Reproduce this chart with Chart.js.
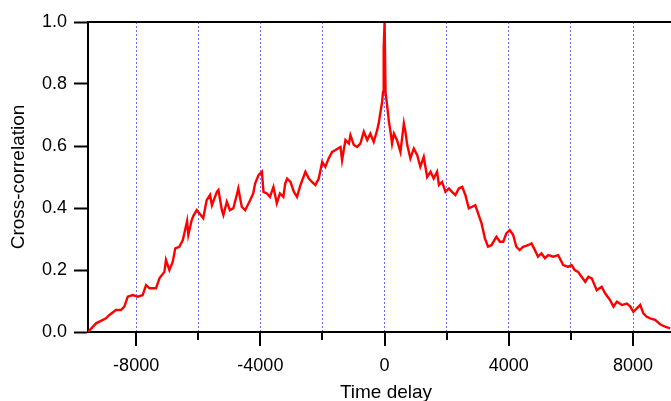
<!DOCTYPE html>
<html>
<head>
<meta charset="utf-8">
<script src="https://cdn.jsdelivr.net/npm/chart.js@4/dist/chart.umd.min.js"></script>
<style>
html, body { margin: 0; padding: 0; overflow: hidden; background: #fff; }
canvas { display: block; }
</style>
</head>
<body>
<canvas id="xcorrChart" width="684" height="401"></canvas>
<script>
// time lag (x) and cross-correlation value (y)
const lags = [
    -9550, -9290, -8970, -8860, -8650, -8490, -8380, -8270, -8110, -7950,
    -7790, -7680, -7570, -7360, -7250, -7090, -7040, -6930, -6820, -6740,
    -6610, -6500, -6440, -6360, -6320, -6210, -6160, -6050, -5940, -5840,
    -5730, -5620, -5560, -5400, -5350, -5240, -5190, -5080, -4980, -4870,
    -4760, -4710, -4600, -4490, -4330, -4230, -4170, -4060, -3950, -3900,
    -3790, -3690, -3580, -3470, -3370, -3260, -3200, -3140, -3030, -2920,
    -2820, -2710, -2550, -2440, -2340, -2230, -2120, -2010, -1910, -1800,
    -1690, -1580, -1420, -1370, -1260, -1150, -1100, -990, -890, -780,
    -670, -560, -460, -350, -240, -190, -140, -80, -50, -30,
    0, 30, 80, 140, 190, 240, 300, 400, 510, 620,
    670, 730, 830, 940, 1050, 1150, 1260, 1370, 1480, 1580,
    1690, 1750, 1850, 1960, 2070, 2170, 2280, 2390, 2500, 2600,
    2710, 2820, 2920, 3030, 3120, 3230, 3330, 3440, 3600, 3710,
    3820, 3920, 4030, 4140, 4240, 4350, 4460, 4620, 4730, 4840,
    4940, 5050, 5160, 5270, 5430, 5590, 5750, 5910, 6020, 6120,
    6230, 6300, 6460, 6560, 6670, 6830, 6990, 7100, 7260, 7370,
    7480, 7640, 7800, 7910, 8010, 8120, 8230, 8330, 8440, 8550,
    8710, 8870, 9030, 9190
];
const xcorr = [
    0.000, 0.028, 0.044, 0.055, 0.071, 0.071, 0.082, 0.114, 0.119, 0.114,
    0.119, 0.151, 0.141, 0.141, 0.173, 0.194, 0.232, 0.200, 0.227, 0.270,
    0.275, 0.296, 0.322, 0.358, 0.313, 0.361, 0.374, 0.393, 0.380, 0.367,
    0.425, 0.442, 0.409, 0.452, 0.458, 0.393, 0.377, 0.420, 0.393, 0.399,
    0.442, 0.463, 0.404, 0.393, 0.425, 0.447, 0.479, 0.506, 0.517, 0.452,
    0.447, 0.436, 0.468, 0.415, 0.447, 0.436, 0.479, 0.495, 0.484, 0.452,
    0.436, 0.474, 0.517, 0.495, 0.484, 0.474, 0.495, 0.549, 0.533, 0.560,
    0.581, 0.587, 0.597, 0.554, 0.619, 0.608, 0.635, 0.603, 0.597, 0.608,
    0.646, 0.619, 0.640, 0.613, 0.651, 0.673, 0.705, 0.742, 0.774, 0.915,
    1.000, 0.774, 0.732, 0.678, 0.646, 0.608, 0.640, 0.619, 0.581, 0.673,
    0.646, 0.603, 0.560, 0.592, 0.570, 0.533, 0.565, 0.500, 0.517, 0.495,
    0.517, 0.474, 0.484, 0.452, 0.463, 0.452, 0.442, 0.463, 0.468, 0.442,
    0.399, 0.404, 0.409, 0.377, 0.351, 0.302, 0.275, 0.280, 0.307, 0.291,
    0.291, 0.318, 0.329, 0.313, 0.275, 0.264, 0.275, 0.280, 0.286, 0.264,
    0.243, 0.254, 0.238, 0.248, 0.243, 0.248, 0.216, 0.210, 0.216, 0.200,
    0.194, 0.184, 0.162, 0.178, 0.173, 0.135, 0.146, 0.125, 0.103, 0.082,
    0.098, 0.087, 0.092, 0.082, 0.065, 0.076, 0.087, 0.060, 0.049, 0.044,
    0.039, 0.025, 0.017, 0.012
];

// every 2000 gets a dotted line, every 4000 gets a label
const lagTicks = [-8000, -6000, -4000, -2000, 0, 2000, 4000, 6000, 8000];
const lagLabels = [-8000, -4000, 0, 4000, 8000];
const corrTicks = [0, 0.2, 0.4, 0.6, 0.8, 1.0];

const axisFont = { family: "'Liberation Sans', Arial, sans-serif", size: 18 };
const titleFont = { family: "'Liberation Sans', Arial, sans-serif", size: 19 };

// top frame line and the outward tick marks on the time axis
const frameTicks = {
    id: 'frameTicks',
    afterDraw(chart) {
        const { ctx, chartArea, scales } = chart;
        ctx.save();
        ctx.strokeStyle = '#000';
        ctx.lineWidth = 2;
        ctx.beginPath();
        ctx.moveTo(chartArea.left - 1, chartArea.top);
        ctx.lineTo(chartArea.right, chartArea.top);
        lagTicks.forEach(v => {
            const px = Math.round(scales.x.getPixelForValue(v));
            const len = lagLabels.includes(v) ? 14 : 8;
            ctx.moveTo(px, chartArea.bottom);
            ctx.lineTo(px, chartArea.bottom + len);
        });
        ctx.stroke();
        ctx.restore();
    }
};

const config = {
    type: 'line',
    data: {
        datasets: [{
            label: 'Cross-correlation',
            data: lags.map((l, i) => ({ x: l, y: xcorr[i] })),
            borderColor: '#ff0000',
            borderWidth: 2.4,
            pointRadius: 0,
            tension: 0
        }]
    },
    options: {
        responsive: false,
        animation: false,
        layout: { padding: { top: 22, left: 0, right: 0, bottom: 0 } },
        plugins: {
            legend: { display: false },
            tooltip: { enabled: false }
        },
        scales: {
            x: {
                type: 'linear',
                min: -9550,
                max: 9640,
                afterBuildTicks: scale => {
                    scale.ticks = lagTicks.map(v => ({ value: v }));
                },
                afterFit: scale => { scale.height = 69; },
                ticks: {
                    autoSkip: false,
                    maxRotation: 0,
                    padding: 23,
                    color: '#000',
                    font: axisFont,
                    callback: v => lagLabels.includes(v) ? String(v) : ''
                },
                grid: {
                    color: 'rgba(80, 80, 255, 0.85)',
                    lineWidth: 1,
                    drawTicks: false
                },
                // in v4 the dash pattern applies to the grid lines
                border: { color: '#000', width: 2, dash: [2, 2] },
                title: {
                    display: true,
                    text: 'Time delay',
                    color: '#000',
                    font: titleFont,
                    padding: { top: 0, bottom: -3 }
                }
            },
            y: {
                min: 0,
                max: 1,
                afterBuildTicks: scale => {
                    scale.ticks = corrTicks.map(v => ({ value: v }));
                },
                afterFit: scale => { scale.width = 88; },
                ticks: {
                    padding: 7,
                    color: '#000',
                    font: axisFont,
                    callback: v => v.toFixed(1)
                },
                grid: {
                    drawOnChartArea: false,
                    tickLength: 14,
                    tickColor: '#000',
                    tickWidth: 2
                },
                border: { color: '#000', width: 2 },
                title: {
                    display: true,
                    text: 'Cross-correlation',
                    color: '#000',
                    font: titleFont,
                    padding: { top: 7, bottom: 0 }
                }
            }
        }
    },
    plugins: [frameTicks]
};

new Chart('xcorrChart', config);
</script>
</body>
</html>
